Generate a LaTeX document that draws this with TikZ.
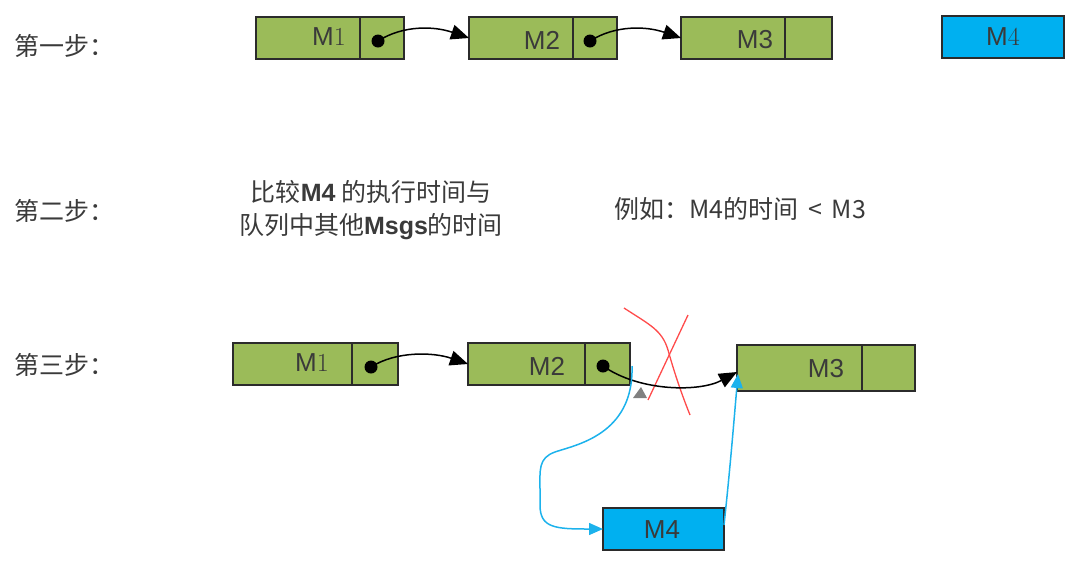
\documentclass[tikz,border=0pt]{standalone}
\usepackage{fontspec}
\setsansfont{Liberation Sans}
\newfontfamily\cjk{Noto Sans CJK SC}
\usetikzlibrary{arrows.meta,calc}
\definecolor{gfill}{HTML}{9BBB59}
\definecolor{bfill}{HTML}{00B0F0}
\definecolor{bline}{HTML}{1CB2EC}
\definecolor{edge}{HTML}{2B2B2B}
\definecolor{txt}{HTML}{3A3A3A}
\definecolor{xred}{HTML}{FF4B4B}
\tikzset{
  cell/.style={draw=edge, line width=1.3pt, inner sep=0pt, outer sep=0pt, minimum height=42pt},
  gcell/.style={cell, fill=gfill},
  bcell/.style={cell, fill=bfill},
  mtext/.style={font=\sffamily\fontsize{26}{30}\selectfont, text=txt, inner sep=0pt},
  ctext/.style={font=\cjk\fontsize{25}{33}\selectfont, text=txt, inner sep=0pt},
  dot/.style={circle, fill=black, inner sep=0pt, minimum size=13pt},
  link/.style={line width=1.5pt, -{Triangle[length=18pt,width=15pt]}},
  blink/.style={line width=1.5pt, draw=bline, -{Triangle[length=14pt,width=12pt]}, bline},
}
\begin{document}
\begin{tikzpicture}[x=1pt,y=-1pt]
\useasboundingbox (0,0) rectangle (1070,566);
% ---------- step 1 ----------
\node[ctext, anchor=west] (s1) at (14,46) {第一步：};
\node[gcell, anchor=north west, minimum width=104pt] (a1) at (256,17) {};
\node[gcell, anchor=west, minimum width=44pt] (a1p) at (a1.east) {};
\node[gcell, anchor=north west, minimum width=104pt] (a2) at (469,17) {};
\node[gcell, anchor=west, minimum width=44pt] (a2p) at (a2.east) {};
\node[gcell, anchor=north west, minimum width=104pt] (a3) at (681,17) {};
\node[gcell, anchor=west, minimum width=47pt] (a3p) at (a3.east) {};
\node[bcell, anchor=north west, minimum width=122pt] (a4) at (942,16) {};
\node[mtext] (a1t) at (329,37) {M{\rmfamily 1}};
\node[mtext] (a2t) at (542,40) {M2};
\node[mtext] (a3t) at (755,40) {M3};
\node[mtext] (a4t) at (1003,37) {M{\rmfamily 4}};
\node[dot] (a1d) at (378,41) {};
\node[dot] (a2d) at (590,41) {};
\draw[link] (a1d.center) .. controls +(25,-16) and +(-35,-12) .. (a2.west);
\draw[link] (a2d.center) .. controls +(25,-16) and +(-35,-12) .. (a3.west);
% ---------- step 2 ----------
\node[ctext, anchor=west] (s2) at (14,211) {第二步：};
\node[ctext, align=center] (c1) at (371,210) {比较{\sffamily\bfseries M4} 的执行时间与\\队列中其他{\sffamily\bfseries Msgs}的时间};
\node[ctext, anchor=west] (c2) at (614,209) {例如：M4的时间 \,<\, M3};
% ---------- step 3 ----------
\node[ctext, anchor=west] (s3) at (14,365) {第三步：};
\node[gcell, anchor=north west, minimum width=119pt] (b1) at (233,343) {};
\node[gcell, anchor=west, minimum width=46pt] (b1p) at (b1.east) {};
\node[gcell, anchor=north west, minimum width=117pt] (b2) at (468,343) {};
\node[gcell, anchor=west, minimum width=45pt] (b2p) at (b2.east) {};
\node[gcell, anchor=north west, minimum width=125pt, minimum height=46pt] (b3) at (737,345) {};
\node[gcell, anchor=west, minimum width=53pt, minimum height=46pt] (b3p) at (b3.east) {};
\node[bcell, anchor=north west, minimum width=121pt] (b4) at (603,508) {};
\node[mtext] (b1t) at (312,363) {M{\rmfamily 1}};
\node[mtext] (b2t) at (547,366) {M2};
\node[mtext] (b3t) at (826,369) {M3};
\node[mtext] (b4t) at (662,530) {M4};
\node[dot] (b1d) at (371,367) {};
\node[dot] (b2d) at (603,366) {};
\draw[link] (b1d.center) .. controls +(25,-16) and +(-35,-12) .. (b2.west);
% red cross
\draw[xred, line width=1.3pt] (624,308) .. controls (650,325) and (662,330) .. (668,350) .. controls (675,375) and (682,395) .. (690,415);
\draw[xred, line width=1.3pt] (688,315) -- (648,400);
% old link M2 -> M3
\coordinate (b3in) at ($(b3.west)+(0,4)$);
\draw[link] (b2d.center) .. controls (640,392) and (700,392) .. (b3in);
% grey stray tip
\fill[gray] (633,398) -- (647,398) -- (641,387) -- cycle;
% new links
\coordinate (b2out) at ($(b2p.east)+(2,2)$);
\draw[blink] (b2out) .. controls (634,435) and (575,445) .. (555,452)
  .. controls (538,458) and (540,470) .. (540,490) -- (540,505)
  .. controls (540,528) and (555,529) .. (b4.west);
\coordinate (b4out) at ($(b4.east)+(0,-4)$);
\coordinate (b3low) at ($(b3.west)+(1,6)$);
\draw[blink] (b4out) .. controls (730,470) and (734,420) .. (b3low);
\end{tikzpicture}
\end{document}
